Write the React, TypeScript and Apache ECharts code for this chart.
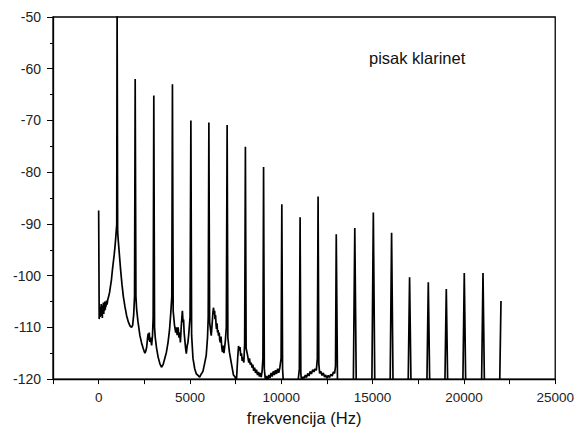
import React, { useEffect, useRef } from "react";
import * as echarts from "echarts";

// Harmonic peaks of the clarinet mouthpiece spectrum (Hz, dB)
const peakFreqs = [1010, 2000, 3020, 4040, 5050, 6035, 7035, 8035, 9030, 10030, 11030, 12015, 13010, 14025, 15040, 16040, 17025, 18050, 19035, 20020, 21045, 22030];
const peakLevels = [-48, -62.0, -65.2, -63.0, -70.0, -70.4, -70.9, -75.1, -79.0, -86.2, -88.7, -84.7, -92.0, -90.8, -87.8, -91.7, -100.3, -101.3, -102.6, -99.5, -99.5, -104.9];

// Noise floor between the peaks (Hz, dB)
const floorPoints: [number, number][] = [
  [0, -87.4], [15, -98], [30, -108.4], [55, -106.5], [80, -108], [100, -106], [120, -107.8], [140, -105.5],
  [160, -107.5], [180, -105.8], [200, -108.2], [220, -106], [240, -107], [260, -105.2], [280, -107.4],
  [300, -105.6], [320, -106.8], [340, -105], [360, -106.6], [380, -105.4], [400, -106], [430, -104.8],
  [460, -105.6], [500, -104.6], [550, -104], [600, -103.2], [650, -102], [700, -100.8], [750, -99],
  [800, -97.5], [850, -96], [900, -94.2], [940, -92.5], [970, -91], [990, -90.2],
  [1040, -91.5], [1080, -93.5], [1130, -95.7], [1200, -98.8], [1280, -101.8], [1350, -104], [1440, -106],
  [1535, -107.8], [1630, -109], [1715, -109.7], [1800, -110], [1860, -109.6], [1920, -107.5], [1965, -104],
  [2040, -104], [2080, -106.5], [2150, -108.8], [2260, -111.6], [2350, -113], [2440, -114.1], [2530, -115],
  [2580, -114.6], [2630, -113.8], [2680, -112], [2710, -111.2], [2740, -112.5], [2770, -111], [2800, -112.8],
  [2840, -112], [2900, -113.5], [2950, -111.5], [2985, -108],
  [3060, -110], [3100, -112], [3170, -114], [3260, -115.8], [3350, -117], [3440, -117.7], [3530, -117.2],
  [3620, -116], [3710, -114.8], [3800, -112.9], [3880, -110.5], [3950, -107.2], [4005, -104],
  [4080, -106.8], [4150, -109.5], [4220, -111], [4260, -110], [4300, -111.5], [4350, -110], [4400, -112],
  [4440, -111], [4475, -112.9], [4520, -110], [4560, -108], [4585, -106.8], [4620, -109], [4650, -108.5],
  [4680, -111], [4720, -112.5], [4760, -114], [4800, -115.1], [4850, -113.5], [4890, -112.9], [4940, -111],
  [5005, -108],
  [5090, -111.5], [5165, -116], [5260, -118], [5350, -119], [5440, -119.3], [5530, -119.6], [5620, -119],
  [5710, -118.5], [5800, -117], [5890, -115.4], [5960, -112], [6000, -108],
  [6075, -109], [6165, -111.6], [6220, -109], [6260, -107], [6290, -106.2], [6320, -107.5], [6350, -106.8],
  [6370, -108.4], [6400, -107.6], [6430, -109.5], [6450, -110.3], [6480, -109.2], [6510, -111], [6540, -110.5],
  [6560, -111.6], [6600, -111], [6630, -112.5], [6670, -112.9], [6700, -111.8], [6740, -113.8], [6780, -114.8],
  [6820, -113.5], [6860, -115], [6900, -113.8], [6940, -112.5], [6990, -110],
  [7075, -112], [7160, -114.8], [7270, -117], [7380, -119.2], [7470, -119.6], [7540, -120.6], [7580, -118],
  [7620, -115.5], [7660, -113.6], [7700, -114.5], [7740, -113.8], [7780, -115.5], [7820, -115], [7860, -116.5],
  [7900, -115.8], [7950, -116.8], [7995, -113],
  [8075, -114], [8160, -115.5], [8220, -116.8], [8260, -116], [8300, -117.2], [8350, -116.8], [8400, -117.8],
  [8440, -117.2], [8490, -118.4], [8540, -117.8], [8590, -118.8], [8640, -118.2], [8700, -119.2], [8750, -118.6],
  [8800, -119.5], [8850, -118.8], [8900, -119.6], [8950, -118.5], [8995, -116],
  [9070, -118], [9130, -120.2], [9200, -119.4], [9260, -120.4], [9320, -119.2], [9380, -119.8], [9440, -118.8],
  [9500, -119.5], [9560, -118.5], [9620, -119.2], [9680, -118.3], [9740, -119], [9800, -118], [9860, -118.8],
  [9920, -117.8], [9990, -116],
  [10070, -118], [10120, -121], [10500, -122], [10900, -121], [10990, -118],
  [11070, -119], [11120, -120.6], [11180, -119.6], [11250, -119.8], [11320, -119.2], [11380, -119.7],
  [11450, -118.9], [11520, -119.4], [11580, -118.5], [11650, -119], [11720, -118.2], [11790, -118.6],
  [11850, -118], [11920, -118.3], [11975, -116],
  [12055, -117], [12100, -118.9], [12160, -118.5], [12230, -119.3], [12300, -118.8], [12370, -119.6],
  [12430, -119.2], [12500, -119.8], [12570, -119.3], [12640, -119.7], [12710, -119.1], [12790, -119.4],
  [12850, -118.6], [12920, -118.9], [12970, -117.5],
  [13080, -121.5], [13940, -123], [14110, -123], [14955, -123], [15125, -123], [15955, -123], [16125, -123],
  [16940, -123], [17110, -123], [17965, -123], [18135, -123], [18950, -123], [19120, -123], [19935, -123],
  [20105, -123], [20960, -123], [21130, -123], [21950, -123],
];

const xMin = -2500;
const xMax = 25000;
const xStep = 2500;
const yMin = -120;
const yMax = -50;
const yStep = 10;
const xTitle = "frekvencija (Hz)";
const note = "pisak klarinet";

export default function App() {
  const ref = useRef<HTMLDivElement>(null);
  useEffect(() => {
    if (!ref.current) return;
    const chart = echarts.init(ref.current, null, { renderer: "svg" });
    const data = [
      ...floorPoints,
      ...peakFreqs.map((f, i) => [f, peakLevels[i]] as [number, number]),
    ].sort((a, b) => a[0] - b[0]);
    const font = "Liberation Sans, Arial, sans-serif";
    chart.setOption({
      animation: false,
      backgroundColor: "#fff",
      grid: {
        left: 53,
        right: 20,
        top: 17,
        bottom: 47,
        containLabel: false,
        show: true,
        borderColor: "#000",
        borderWidth: 1.3,
        backgroundColor: "transparent",
      },
      xAxis: {
        type: "value",
        min: xMin,
        max: xMax,
        interval: xStep,
        name: xTitle,
        nameLocation: "middle",
        nameGap: 18,
        nameTextStyle: { fontFamily: font, fontSize: 16.5, color: "#111" },
        axisLine: { show: true, onZero: false, lineStyle: { color: "#000", width: 1.3 } },
        axisTick: { show: true, inside: false, length: 5, lineStyle: { color: "#000", width: 1 } },
        splitLine: { show: false },
        axisLabel: {
          margin: 11,
          fontFamily: font,
          fontSize: 13.5,
          color: "#222",
          formatter: (v: number) => (v % 5000 === 0 ? String(v) : ""),
        },
      },
      yAxis: {
        type: "value",
        min: yMin,
        max: yMax,
        interval: yStep,
        axisLine: { show: true, onZero: false, lineStyle: { color: "#000", width: 1.3 } },
        axisTick: { show: true, inside: false, length: 6, lineStyle: { color: "#000", width: 1 } },
        minorTick: { show: true, splitNumber: 2, length: 3, lineStyle: { color: "#000", width: 1 } },
        splitLine: { show: false },
        axisLabel: { margin: 12, fontFamily: font, fontSize: 14, color: "#222" },
      },
      series: [
        {
          type: "line",
          data,
          showSymbol: false,
          symbol: "none",
          clip: true,
          lineStyle: { color: "#000", width: 1.7 },
        },
      ],
      graphic: [
        {
          type: "text",
          x: 369,
          y: 58,
          style: {
            text: note,
            fill: "#111",
            font: `16.5px ${font}`,
            verticalAlign: "middle",
          },
        },
      ],
    });
    return () => chart.dispose();
  }, []);
  return (
    <div
      ref={ref}
      style={{ position: "fixed", left: 0, top: 0, width: 577, height: 431 }}
    />
  );
}
